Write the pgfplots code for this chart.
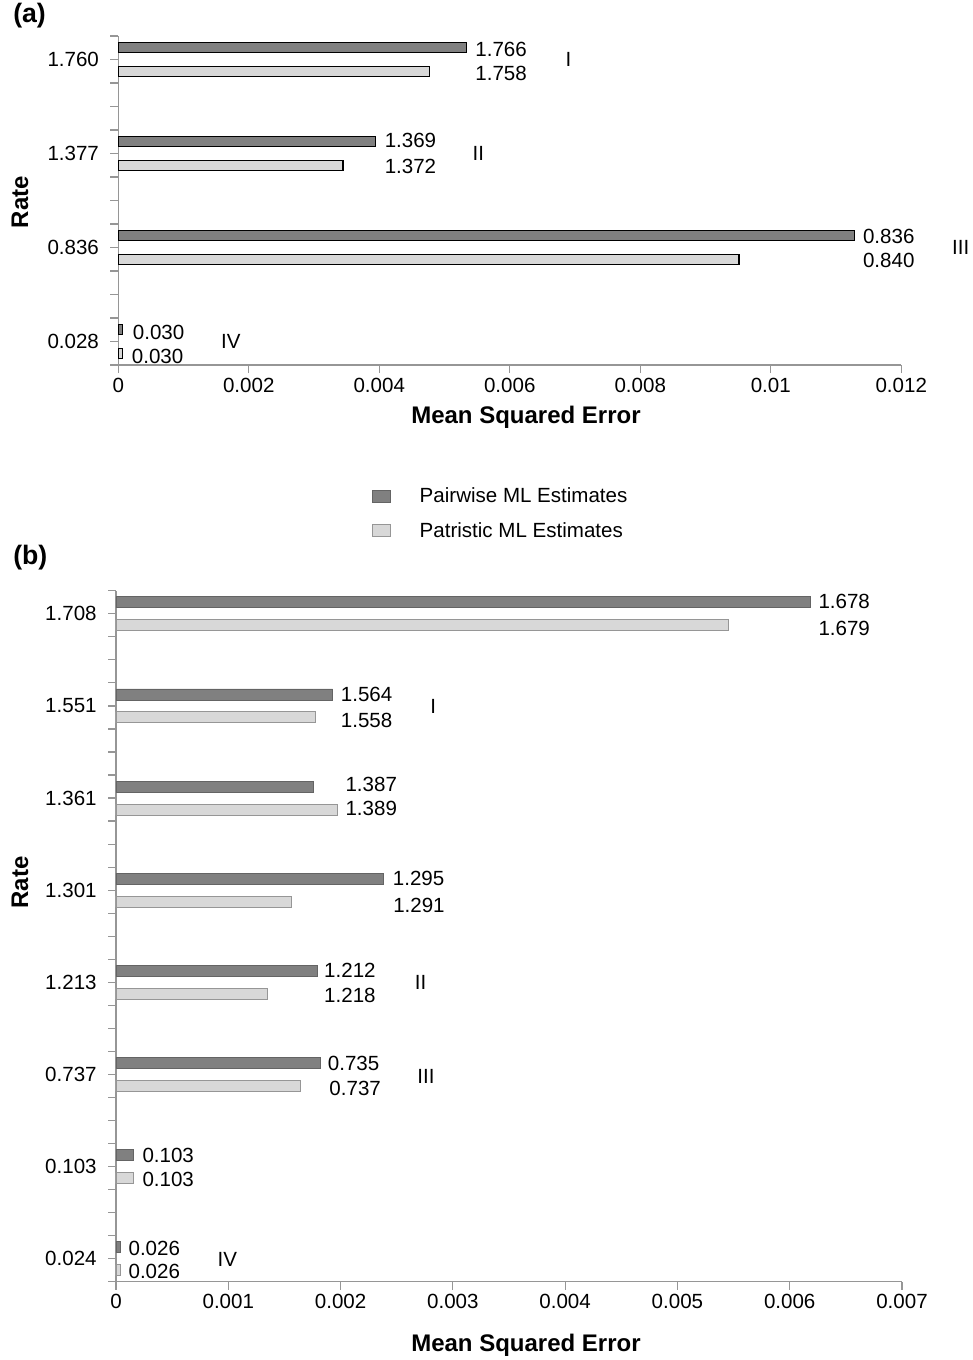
\documentclass[border=0pt]{standalone}
\usepackage{fontspec}
\setmainfont{Liberation Sans}
\usepackage{pgfplots}
\usepackage{pgfplotstable}
\pgfplotsset{compat=1.18}

\definecolor{pairfill}{RGB}{128,128,128}
\definecolor{patrfill}{RGB}{216,216,216}
\definecolor{axisgray}{RGB}{150,150,150}
\definecolor{pairedge}{RGB}{100,100,100}
\definecolor{patredge}{RGB}{150,150,150}

% Mean squared error of the rate estimates, panel (a)
\pgfplotstableread{
y  mse
3  0.005342
2  0.003949
1  0.011280
0  0.000060
}\pairA
\pgfplotstableread{
y  mse
3  0.004776
2  0.003444
1  0.009513
0  0.000060
}\patrA

% panel (b)
\pgfplotstableread{
y  mse
7  0.006180
6  0.001930
5  0.001757
4  0.002380
3  0.001796
2  0.001817
1  0.000158
0  0.000042
}\pairB
\pgfplotstableread{
y  mse
7  0.005456
6  0.001778
5  0.001974
4  0.001565
3  0.001347
2  0.001638
1  0.000158
0  0.000042
}\patrB

\newcommand{\txtfont}{\fontsize{15.4}{18}\selectfont}
\newcommand{\lbl}[3]{\node[anchor=west, inner sep=0pt, font=\txtfont] at (axis cs:#1,#2) {#3};}
\newcommand{\grp}[3]{\node[anchor=center, inner sep=0pt, font=\txtfont] at (axis cs:#1,#2) {#3};}

\pgfplotsset{
  msebars/.style={
    scale only axis,
    axis lines*=left,
    axis line style={axisgray, line width=0.9pt},
    every tick/.style={axisgray, line width=0.9pt},
    major tick length=6pt,
    minor tick length=6pt,
    tick align=outside,
    xtick pos=bottom,
    ytick pos=left,
    enlargelimits=false,
    clip=false,
    xmin=0,
    ymin=-0.25,
    scaled x ticks=false,
    /pgf/number format/assume math mode=true,
    ticklabel style={font=\txtfont},
    yticklabel style={xshift=-5pt},
    xlabel={Mean Squared Error},
    ylabel={Rate},
    label style={font=\fontsize{18}{21}\selectfont\bfseries},
  },
}

\begin{document}
\begin{tikzpicture}
\path[use as bounding box] (0,0) rectangle (729pt,-1020pt);

\node[anchor=north west, inner sep=0pt, font=\fontsize{20}{24}\selectfont\bfseries] at (9.75pt,-2pt) {(a)};
\node[anchor=north west, inner sep=0pt, font=\fontsize{20}{24}\selectfont\bfseries] at (9.75pt,-409pt) {(b)};

% ---------------- panel (a) ----------------
\begin{axis}[
  msebars,
  at={(88.7pt,-273.75pt)}, anchor=south west,
  width=587.25pt, height=246.75pt,
  xmax=0.012, ymax=3.25,
  xtick={0,0.002,0.004,0.006,0.008,0.01,0.012},
  xticklabels={0,0.002,0.004,0.006,0.008,0.01,0.012},
  ytick={0,1,2,3},
  yticklabels={0.028,0.836,1.377,1.760},
  minor ytick={-0.25,0.25,0.5,0.75,1.25,1.5,1.75,2.25,2.5,2.75,3.25},
  xlabel style={at={(axis description cs:0.5207,-0.158)}, anchor=center},
  ylabel style={at={(axis description cs:-0.1255,0.495)}, anchor=center},
]
\addplot[xbar, bar width=7.5pt, bar shift=8.8pt, fill=pairfill, draw=black, line width=0.8pt]
  table[x=mse, y=y] {\pairA};
\addplot[xbar, bar width=7.5pt, bar shift=-8.8pt, fill=patrfill, draw=black, line width=0.8pt]
  table[x=mse, y=y] {\patrA};

\lbl{0.00547}{3.112}{1.766}
\lbl{0.00547}{2.856}{1.758}
\grp{0.00690}{3.0}{I}
\lbl{0.00408}{2.144}{1.369}
\lbl{0.00408}{1.867}{1.372}
\grp{0.00552}{2.0}{II}
\lbl{0.01141}{1.122}{0.836}
\lbl{0.01141}{0.867}{0.840}
\grp{0.01291}{1.0}{III}
\lbl{0.00022}{0.094}{0.030}
\lbl{0.000205}{-0.162}{0.030}
\grp{0.001725}{0.0}{IV}
\end{axis}

% ---------------- panel (b) ----------------
\begin{axis}[
  msebars,
  at={(87pt,-961.3pt)}, anchor=south west,
  width=589.5pt, height=518.25pt,
  xmax=0.007, ymax=7.25,
  xtick={0,0.001,0.002,0.003,0.004,0.005,0.006,0.007},
  xticklabels={0,0.001,0.002,0.003,0.004,0.005,0.006,0.007},
  ytick={0,1,2,3,4,5,6,7},
  yticklabels={0.024,0.103,0.737,1.213,1.301,1.361,1.551,1.708},
  minor ytick={-0.25,0.25,0.5,0.75,1.25,1.5,1.75,2.25,2.5,2.75,3.25,3.5,3.75,4.25,4.5,4.75,5.25,5.5,5.75,6.25,6.5,6.75,7.25},
  xlabel style={at={(axis description cs:0.5216,-0.0916)}, anchor=center},
  ylabel style={at={(axis description cs:-0.1221,0.578)}, anchor=center},
  legend style={at={(axis description cs:0.3202,1.112)}, anchor=west,
    draw=none, fill=none, font=\txtfont, row sep=9.5pt,
    nodes={inner sep=2pt}, column sep=19.75pt},
  legend cell align=left,
  legend image code/.code={\draw[#1] (0pt,-4.5pt) rectangle (13.5pt,4.5pt);},
]
\addplot[xbar, bar width=8.25pt, bar shift=8.6pt, fill=pairfill, draw=pairedge, line width=0.6pt]
  table[x=mse, y=y] {\pairB};
\addlegendentry{Pairwise ML Estimates}
\addplot[xbar, bar width=8.25pt, bar shift=-8.6pt, fill=patrfill, draw=patredge, line width=0.6pt]
  table[x=mse, y=y] {\patrB};
\addlegendentry{Patristic ML Estimates}

\lbl{0.006254}{7.130}{1.678}
\lbl{0.006254}{6.845}{1.679}
\lbl{0.002001}{6.128}{1.564}
\lbl{0.002001}{5.846}{1.558}
\grp{0.002825}{5.99}{I}
\lbl{0.002042}{5.152}{1.387}
\lbl{0.002042}{4.884}{1.389}
\lbl{0.002464}{4.128}{1.295}
\lbl{0.002467}{3.838}{1.291}
\lbl{0.001852}{3.132}{1.212}
\lbl{0.001852}{2.861}{1.218}
\grp{0.002713}{2.995}{II}
\lbl{0.001885}{2.120}{0.735}
\lbl{0.001899}{1.849}{0.737}
\grp{0.002760}{1.975}{III}
\lbl{0.000234}{1.125}{0.103}
\lbl{0.000234}{0.861}{0.103}
\lbl{0.000110}{0.112}{0.026}
\lbl{0.000110}{-0.142}{0.026}
\grp{0.000991}{-0.008}{IV}
\end{axis}
\end{tikzpicture}
\end{document}
